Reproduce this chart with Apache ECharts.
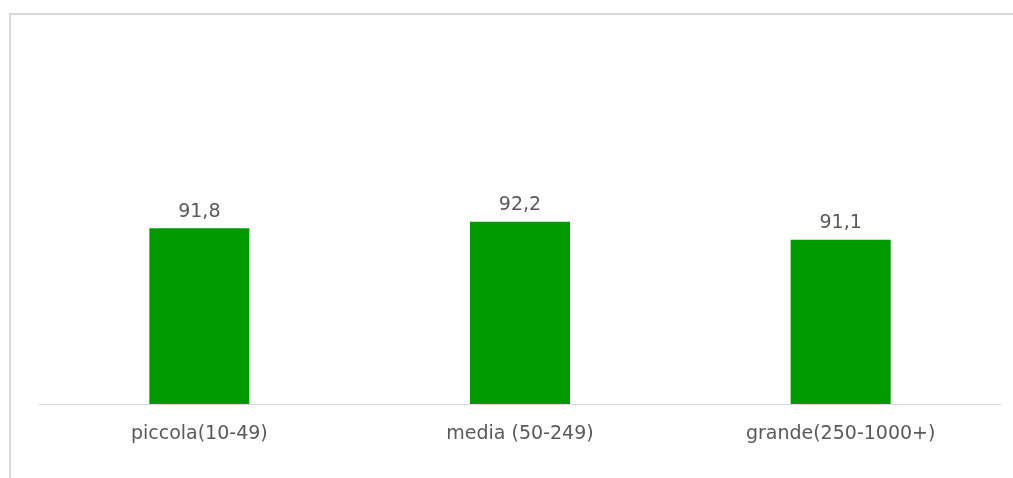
<!DOCTYPE html>
<html>
<head>
<meta charset="utf-8">
<script src="https://cdn.jsdelivr.net/npm/echarts@6/dist/echarts.min.js"></script>
<style>
  html, body { margin: 0; padding: 0; background: #ffffff; }
  #chart { width: 1013px; height: 478px; }
</style>
</head>
<body>
<div id="chart"></div>
<script>
// Company size classes and their values
const categories = ['piccola(10-49)', 'media (50-249)', 'grande(250-1000+)'];
const values = [91.8, 92.2, 91.1];

const axisMin = 81;
const axisMax = 100;

const fmt = v => String(v.toFixed(1)).replace('.', ',');
const textColor = '#595959';
const fontFamily = '"DejaVu Sans", sans-serif';

const chart = echarts.init(document.getElementById('chart'), null, { renderer: 'canvas' });

chart.setOption({
  backgroundColor: '#ffffff',
  animation: false,
  graphic: [{
    type: 'rect',
    shape: { x: 10, y: 14, width: 1100, height: 1000 },
    style: { fill: 'none', stroke: '#d9d9d9', lineWidth: 2 },
    silent: true
  }],
  grid: { left: 39, right: 12, top: 95, bottom: 74, containLabel: false },
  xAxis: {
    type: 'category',
    data: categories,
    axisLine: { show: true, lineStyle: { color: '#d9d9d9', width: 1 } },
    axisTick: { show: false },
    axisLabel: { color: textColor, fontSize: 19, fontFamily: fontFamily, margin: 21 }
  },
  yAxis: {
    type: 'value',
    min: axisMin,
    max: axisMax,
    show: false,
    splitLine: { show: false }
  },
  series: [{
    type: 'bar',
    data: values,
    barWidth: 100,
    itemStyle: { color: '#009900' },
    label: {
      show: true,
      position: 'top',
      distance: 7,
      color: textColor,
      fontSize: 19,
      fontFamily: fontFamily,
      formatter: p => fmt(p.value)
    }
  }]
});
</script>
</body>
</html>
